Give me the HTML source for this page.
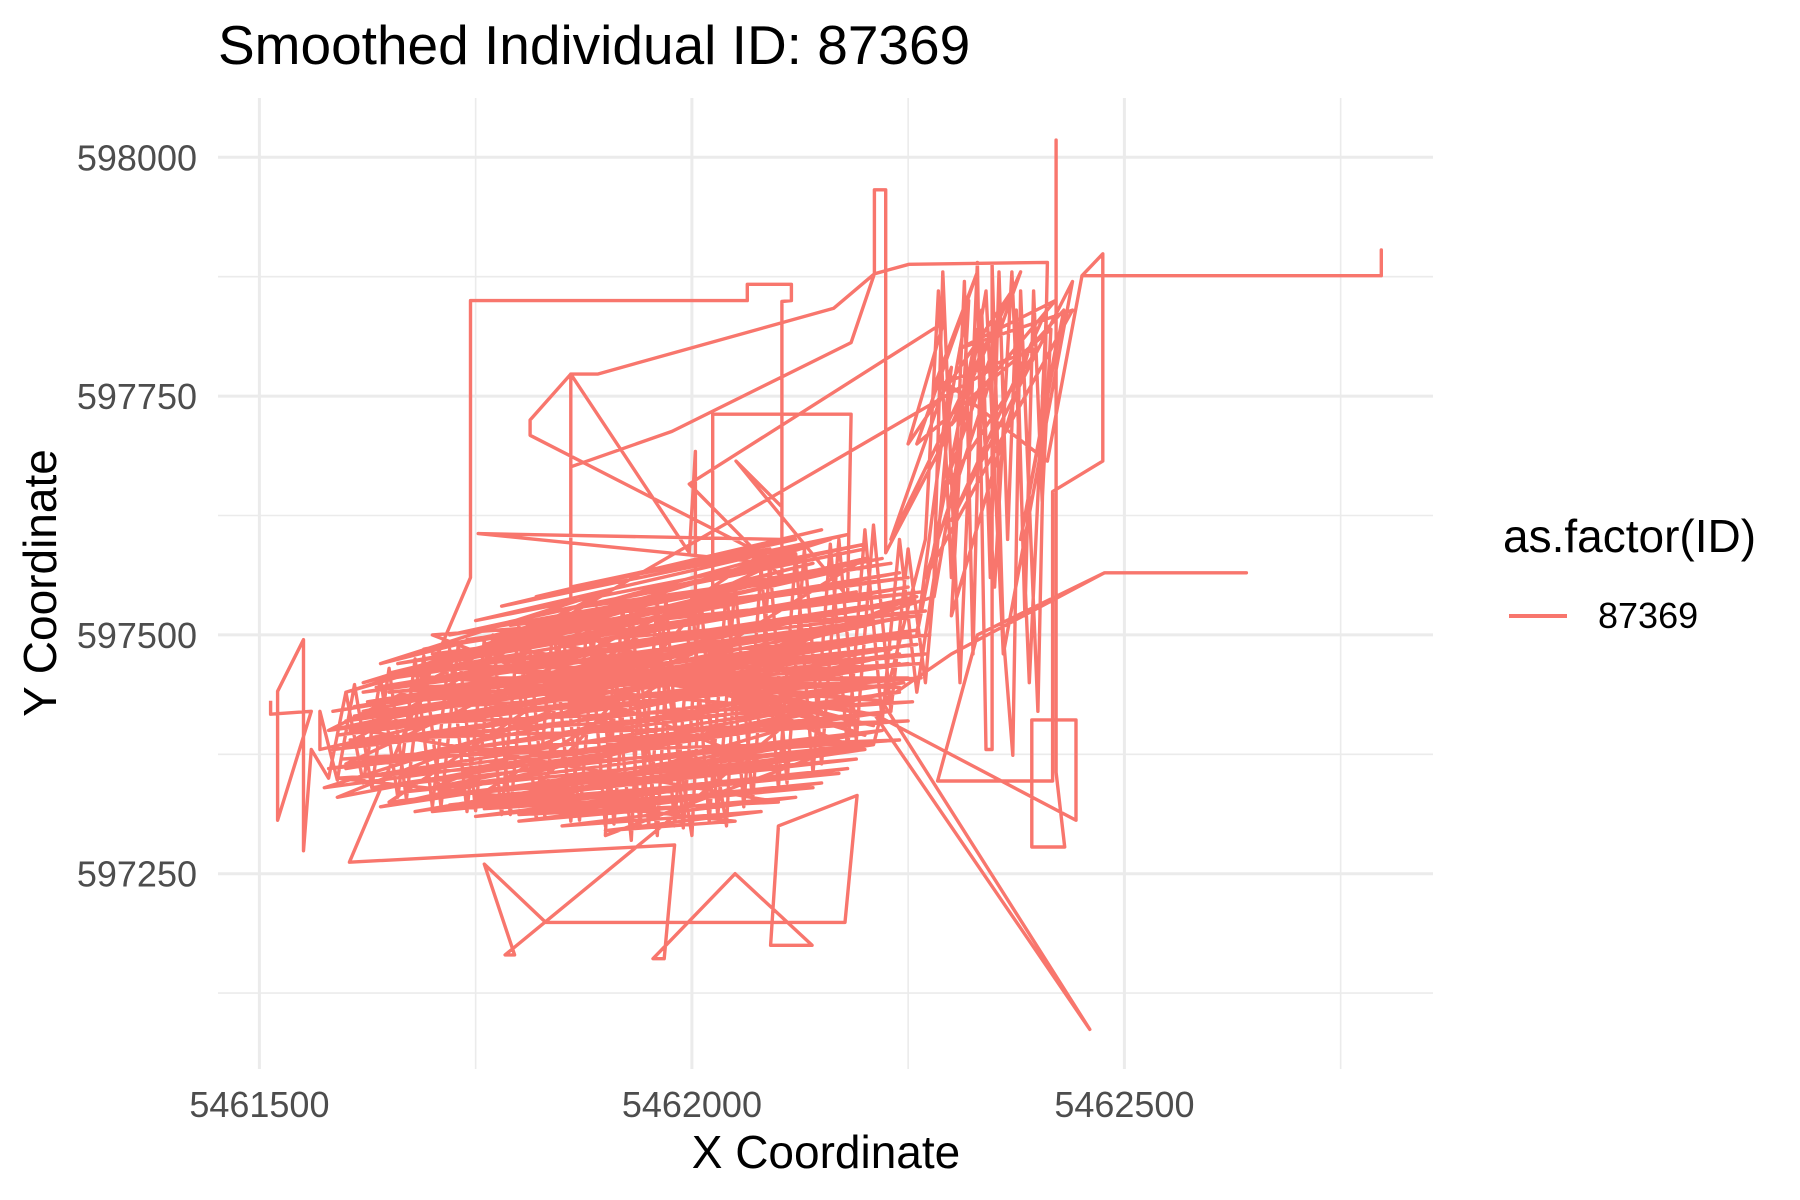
<!DOCTYPE html>
<html><head><meta charset="utf-8"><style>
html,body{margin:0;padding:0;background:#fff;}
svg{display:block;font-family:"Liberation Sans",Arial,sans-serif;}
</style></head><body>
<svg id="chart" width="1800" height="1200" viewBox="0 0 1800 1200" xmlns="http://www.w3.org/2000/svg">
<rect x="0" y="0" width="1800" height="1200" fill="#fff"/>
<g id="grid"></g>
<g id="marks"></g>
<g id="axes"></g>
<text x="218" y="64" font-size="55" fill="#000">Smoothed Individual ID: 87369</text>
<text x="826" y="1168" font-size="46" text-anchor="middle" fill="#000">X Coordinate</text>
<text transform="translate(56,583) rotate(-90)" font-size="46" text-anchor="middle" fill="#000">Y Coordinate</text>
<g>
<text x="1503" y="552" font-size="46" fill="#000">as.factor(ID)</text>
<line x1="1509" y1="616" x2="1567" y2="616" stroke="#F8766D" stroke-width="4"/>
<text x="1598" y="628" font-size="36" fill="#000">87369</text>
</g>
</svg>
<script>
const xMajor = [5461500, 5462000, 5462500];
const xMinor = [5461750, 5462250, 5462750];
const yMajor = [597250, 597500, 597750, 598000];
const yMinor = [597125, 597375, 597625, 597875];
const xTickLabels = ["5461500", "5462000", "5462500"];
const yTickLabels = ["597250", "597500", "597750", "598000"];
const trackX = [
5461513,5461513,5461560,5461521,5461521,5461551,5461551,5461560,
5461580,5461600,5461620,5461640,5461660,5461680,5461700,5461720,5461740,5461760,5461780,5461800,5461820,5461840,5461860,5461880,5461900,5461920,5461940,5461960,5461980,5462000,5462020,5462040,5462060,5462080,5462100,5462120,5462140,5462160,5462180,5462200,5462220,5462240,5462260,5462280,
5462290,5462310,5462330,5462340,5462347,5462347,5462360,5462371,5462380,5462400,5462411,5462251,5462211,5462211,5462224,5462224,5462290,5462320,5462300,5462390,5462430,5462380,5462421,5462421,5462421,5462431,5462393,5462393,5462444,5462444,
5462211,5462460,5462220,
5462300,5462477,5462641,5462477,5462330,
5462284,5462417,5462417,5462475,5462475,5462451,5462797,5462797,5462797,5462451,5462411,5462300,
5462270,5462250,5462230,5462210,5462190,5462170,5462150,5462130,5462110,5462090,5462070,5462050,5462030,5462010,5461990,5461970,5461950,5461930,5461910,5461890,5461870,5461850,5461830,5461810,5461790,5461770,5461750,5461730,5461710,5461690,5461670,5461650,5461630,5461610,5461590,5461570,
5461570,5462250,5461580,5462240,5461600,5462200,5461620,5462260,5461700,5462150,5461650,5462200,5461750,5462100,5461700,5462000,5461800,5462100,
5461784,5461795,5461760,5461831,5462177,5462191,5462100,5462091,5462139,5462050,5461955,5461968,5461980,5461604,5461650,
5461744,5461744,5461744,5462064,5462064,5462115,5462115,5462104,5462104,5461753,5462104,
5461813,5461813,5461860,5461891,5462164,5462211,
5462184,5461977,5461860,5461860,
5461860,5461997,5462004,5462004,5462024,5462024,5462184,5462180,
5462051,5462104,5462104,5461997,5462291,5462250,5462370,5462230,5462300,5462260,
5462330,5462350,5462370,5462390,5462410,5462300,5462440,5462360,5462340,5462280,
5461575,5462230,5461580,5462245,5461585,5462250,5461590,5462255,5461600,5462260,5461610,5462260,5461620,5462255,5461640,5462250,5461660,5462240,5461690,5462220,5461720,5462200,5461750,5462180,5461780,5462150,5461820,5462120,5461860,5462090,
5461650,5462200,5461700,5462180,5461750,5462150,5461800,5462120,5461850,5462080,5461900,5462050,
5461590,5462240,5461595,5462250,5461605,5462255,5461615,5462265,5461630,5462270,5461650,5462275,5461670,5462270,5461700,5462265,5461740,5462250,5461790,5462230,5461840,5462200,5461900,5462160,5461600,5462000,5461620,5461950,5461640,5461900,
5461580,5462100,5461585,5462000,5461590,5462230,5461640,5462220,5461680,5462210,
5462270,5462285,5462300,5462315,5462325,5462335,5462345,5462355,5462365,5462375,5462385,5462395,5462405,5462415,5462260,5462330,5462280,5462400,5462290,5462380,5462300,5462420,5462310,5462440,5462270,5462350,
5461600,5462240,5461605,5462230,5461610,5462220,5461625,5462210,5461635,5462200,5461655,5462190,5461675,5462175,5461700,5462160,5461725,5462140,5461760,5462120,
5461600,5462240,5461610,5462230,5461630,5462220,5461660,5462200,5461690,5462190,5461720,5462170,5461760,5462140,5461800,5462100,
5461620,5462250,5461640,5462260,5461660,5462265,5461680,5462250,5461710,5462240,5461740,5462230,5461770,5462220,5461800,5462210,5461830,5462200,5461860,5462180,
5461900,5461910,5461930,5461940,5461960,5461970,5462000,5462010,5462040,5462050
];
const trackY = [
597431,597417,597420,597306,597441,597495,597274,597380,
597350,597440,597345,597455,597330,597475,597320,597485,597315,597495,597312,597510,597308,597515,597305,597525,597300,597530,597300,597535,597300,597540,597305,597550,597320,597570,597340,597585,597355,597595,597380,597610,597410,597600,597440,597560,
597880,597450,597890,597380,597380,597888,597500,597374,597860,597420,597890,597888,597878,597966,597966,597586,597700,597850,597520,597800,597840,597600,597803,598018,597356,597278,597278,597411,597411,597306,
597417,597087,597430,
597480,597565,597565,597565,597500,
597347,597347,597650,597682,597899,597876,597876,597903,597876,597876,597682,597760,
597450,597590,597420,597615,597390,597600,597365,597590,597345,597575,597325,597555,597310,597545,597298,597538,597300,597532,597302,597528,597306,597518,597310,597512,597312,597500,597316,597490,597320,597478,597328,597465,597340,597448,597348,597420,
597380,597520,597400,597480,597360,597450,597420,597540,597340,597420,597460,597580,597330,597360,597500,597520,597320,597400,
597165,597165,597260,597199,597199,597332,597300,597175,597175,597250,597161,597161,597280,597262,597360,
597560,597658,597850,597850,597867,597867,597850,597849,597600,597606,597574,
597709,597725,597773,597773,597842,597878,
597806,597713,597676,597537,
597773,597586,597692,597520,597520,597731,597731,597540,
597682,597634,597560,597658,597827,597700,597860,597600,597780,597500,
597820,597550,597880,597450,597840,597620,597870,597480,597860,597540,
597340,597420,597360,597450,597380,597470,597395,597490,597410,597505,597425,597520,597440,597535,597455,597550,597470,597565,597485,597580,597500,597595,597515,597605,597530,597610,597540,597600,597550,597590,
597325,597380,597315,597360,597310,597345,597305,597330,597300,597315,597295,597305,
597350,597390,597370,597410,597390,597430,597405,597455,597420,597480,597440,597500,597460,597525,597480,597545,597495,597560,597510,597575,597525,597590,597535,597600,597440,597545,597450,597540,597470,597545,
597400,597500,597420,597480,597330,597440,597320,597400,597315,597385,
597600,597860,597560,597870,597480,597840,597560,597880,597600,597840,597520,597860,597640,597820,597700,597880,597760,597800,597650,597880,597720,597850,597800,597840,597560,597780,
597385,597470,597400,597485,597415,597500,597430,597515,597445,597530,597455,597545,597465,597555,597470,597565,597480,597575,597490,597585,
597365,597440,597350,597420,597340,597400,597335,597385,597330,597370,597322,597355,597318,597340,597312,597325,
597400,597500,597415,597490,597430,597470,597445,597455,597455,597445,597465,597430,597475,597415,597485,597405,597495,597395,597505,597385,
597290,597480,597285,597470,597290,597460,597290,597470,597300,597480
];

const PX0 = 259.4, PXK = 0.865, PY0 = 157.3, PYK = 0.9552;
function sx(v){ return PX0 + (v - 5461500) * PXK; }
function sy(v){ return PY0 + (598000 - v) * PYK; }
const NS = "http://www.w3.org/2000/svg";
const grid = document.getElementById('grid');
const axes = document.getElementById('axes');
const marks = document.getElementById('marks');
const L = 218, R = 1433, T = 98, B = 1069;

xMinor.forEach(v => {
  const ln = document.createElementNS(NS, 'line');
  ln.setAttribute('x1', sx(v)); ln.setAttribute('x2', sx(v));
  ln.setAttribute('y1', T); ln.setAttribute('y2', B);
  ln.setAttribute('stroke', '#EBEBEB'); ln.setAttribute('stroke-width', '1.6');
  
  
  grid.appendChild(ln);
});
yMinor.forEach(v => {
  const ln = document.createElementNS(NS, 'line');
  ln.setAttribute('x1', L); ln.setAttribute('x2', R);
  ln.setAttribute('y1', sy(v)); ln.setAttribute('y2', sy(v));
  ln.setAttribute('stroke', '#EBEBEB'); ln.setAttribute('stroke-width', '1.6');
  
  
  grid.appendChild(ln);
});
xMajor.forEach((v, i) => {
  const ln = document.createElementNS(NS, 'line');
  ln.setAttribute('x1', sx(v)); ln.setAttribute('x2', sx(v));
  ln.setAttribute('y1', T); ln.setAttribute('y2', B);
  ln.setAttribute('stroke', '#EBEBEB'); ln.setAttribute('stroke-width', '3');
  
  
  grid.appendChild(ln);
  const t = document.createElementNS(NS, 'text');
  t.setAttribute('x', sx(v)); t.setAttribute('y', 1117);
  t.setAttribute('text-anchor', 'middle'); t.setAttribute('font-size', '36'); t.setAttribute('fill', '#4D4D4D');
  
  
  t.textContent = xTickLabels[i];
  axes.appendChild(t);
});
yMajor.forEach((v, i) => {
  const ln = document.createElementNS(NS, 'line');
  ln.setAttribute('x1', L); ln.setAttribute('x2', R);
  ln.setAttribute('y1', sy(v)); ln.setAttribute('y2', sy(v));
  ln.setAttribute('stroke', '#EBEBEB'); ln.setAttribute('stroke-width', '3');
  
  
  grid.appendChild(ln);
  const t = document.createElementNS(NS, 'text');
  t.setAttribute('x', 197); t.setAttribute('y', sy(v) + 13);
  t.setAttribute('text-anchor', 'end'); t.setAttribute('font-size', '36'); t.setAttribute('fill', '#4D4D4D');
  
  
  t.textContent = yTickLabels[i];
  axes.appendChild(t);
});

let d = '';
for (let i = 0; i < trackX.length; i++) {
  d += (i ? 'L' : 'M') + sx(trackX[i]).toFixed(1) + ',' + sy(trackY[i]).toFixed(1);
}
const path = document.createElementNS(NS, 'path');
path.setAttribute('d', d);
path.setAttribute('fill', 'none');
path.setAttribute('stroke', '#F8766D');
path.setAttribute('stroke-width', '3.4');
path.setAttribute('stroke-linejoin', 'round');


marks.appendChild(path);
</script>
</body></html>
